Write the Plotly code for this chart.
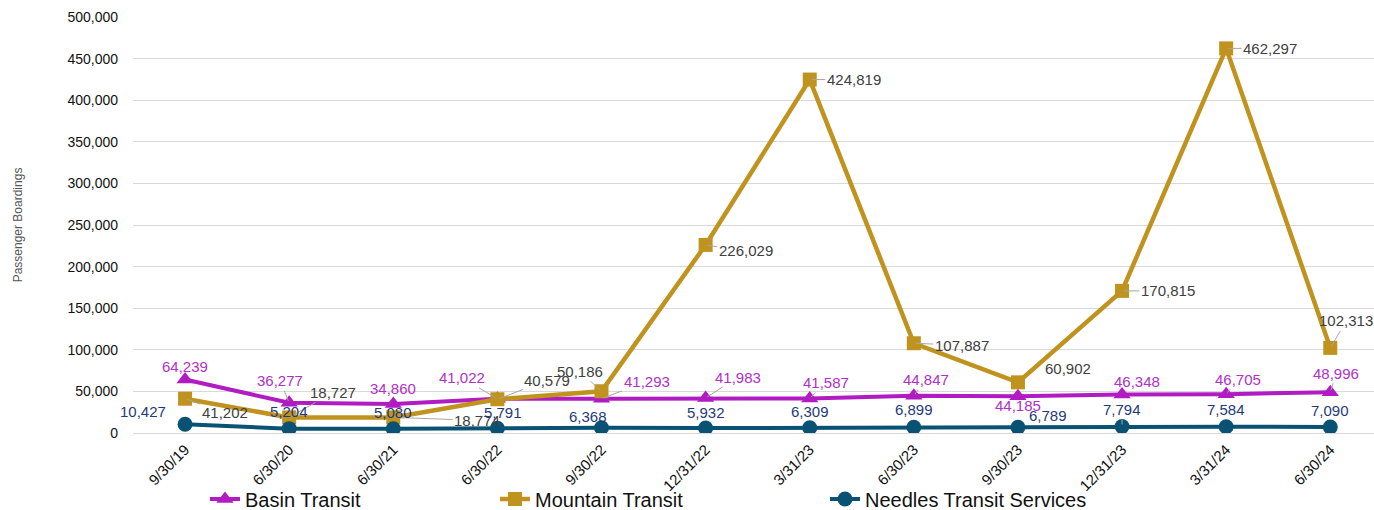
import plotly.graph_objects as go

dates = ["9/30/19", "6/30/20", "6/30/21", "6/30/22", "9/30/22", "12/31/22",
         "3/31/23", "6/30/23", "9/30/23", "12/31/23", "3/31/24", "6/30/24"]
basin = [64239, 36277, 34860, 41022, 41293, 41983, 41587, 44847, 44185, 46348, 46705, 48996]
mountain = [41202, 18727, 18774, 40579, 50186, 226029, 424819, 107887, 60902, 170815, 462297, 102313]
needles = [10427, 5204, 5080, 5791, 6368, 5932, 6309, 6899, 6789, 7794, 7584, 7090]

# label offsets in pixels (dx, dy, leader line?)
basin_off = [(0, -13, 0), (-9, -22, 1), (0, -16, 0), (-35, -21, 1), (45, -17, 1), (32, -21, 1),
             (16, -16, 1), (12, -16, 1), (0, 9, 0), (15, -13, 0), (12, -15, 1), (6, -19, 1)]
mountain_off = [(40, 14, 1), (44, -25, 1), (84, 3, 1), (50, -19, 1), (-22, -20, 1), (40, 6, 1),
                (44, 0, 1), (48, 2, 1), (50, -14, 0), (46, 0, 1), (44, 0, 1), (16, -27, 1)]
needles_off = [(-42, -13, 0), (0, -17, 0), (0, -16, 0), (6, -16, 0), (-14, -11, 0), (0, -16, 0),
               (0, -16, 0), (0, -18, 0), (30, -12, 0), (0, -17, 1), (0, -17, 0), (0, -17, 0)]

BASIN_C = "#B11BC2"
MOUNT_C = "#C0931F"
NEED_C = "#0A5274"
FONT = "Liberation Sans, Arial, sans-serif"
LBL = 15

fig = go.Figure()
fig.add_trace(go.Scatter(x=dates, y=basin, name="Basin Transit", mode="lines+markers",
                         line=dict(color=BASIN_C, width=4),
                         marker=dict(symbol="triangle-up", size=15, color=BASIN_C),
                         legend="legend"))
fig.add_trace(go.Scatter(x=dates, y=mountain, name="Mountain Transit", mode="lines+markers",
                         line=dict(color=MOUNT_C, width=4.5),
                         marker=dict(symbol="square", size=14, color=MOUNT_C),
                         legend="legend2"))
fig.add_trace(go.Scatter(x=dates, y=needles, name="Needles Transit Services", mode="lines+markers",
                         line=dict(color=NEED_C, width=4),
                         marker=dict(symbol="circle", size=15, color=NEED_C),
                         legend="legend3"))

annotations = []
for vals, offs, col in [(basin, basin_off, "#B030C8"),
                        (mountain, mountain_off, "#404040"),
                        (needles, needles_off, "#1F3A78")]:
    for d, v, (dx, dy, lead) in zip(dates, vals, offs):
        txt = f"{v:,}"
        if lead:
            annotations.append(dict(x=d, y=v, xref="x", yref="y", text=txt, showarrow=True,
                                    ax=dx, ay=dy, arrowhead=0, arrowwidth=1, arrowcolor="#A6A6A6",
                                    standoff=2, font=dict(family=FONT, size=LBL, color=col)))
        else:
            annotations.append(dict(x=d, y=v, xref="x", yref="y", text=txt, showarrow=False,
                                    xshift=dx, yshift=-dy, font=dict(family=FONT, size=LBL, color=col)))

leg_common = dict(orientation="h", xref="container", yref="container", y=(510 - 499) / 510,
                  yanchor="middle", xanchor="left", bgcolor="rgba(0,0,0,0)",
                  font=dict(size=20, color="#111111", family=FONT))
fig.update_layout(
    width=1374, height=510,
    margin=dict(l=133, r=0, t=17, b=77, autoexpand=False),
    paper_bgcolor="white", plot_bgcolor="white",
    font=dict(family=FONT, size=13, color="#222222"),
    showlegend=True,
    legend=dict(x=205 / 1374, **leg_common),
    legend2=dict(x=495 / 1374, **leg_common),
    legend3=dict(x=825 / 1374, **leg_common),
    annotations=annotations,
)
fig.update_xaxes(type="category", range=[-0.5, 11.42], showgrid=False, showline=False,
                 tickangle=-45, tickfont=dict(size=15, color="#111111", family=FONT), ticks="",
                 ticklabelstandoff=4, automargin=False)
fig.update_yaxes(range=[0, 500000], dtick=50000, tickformat=",", gridcolor="#D9D9D9",
                 zeroline=True, zerolinecolor="#D9D9D9", zerolinewidth=1,
                 tickfont=dict(size=14, color="#111111", family=FONT), ticklabelstandoff=14,
                 automargin=False,
                 title=dict(text="Passenger Boardings", font=dict(size=12, color="#555555", family=FONT),
                            standoff=42))

fig.write_html("out.html")
